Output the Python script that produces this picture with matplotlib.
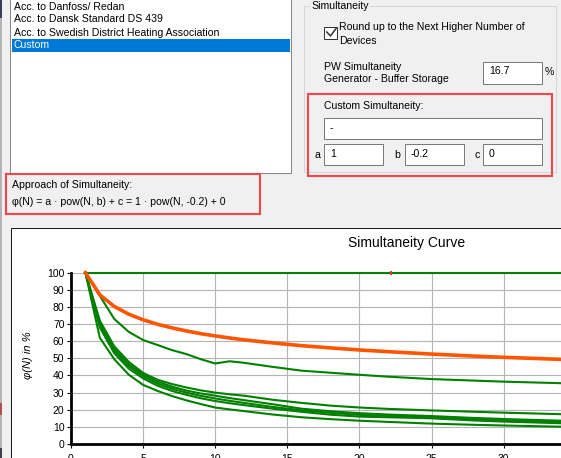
import matplotlib
matplotlib.use('Agg')
import matplotlib.pyplot as plt
from matplotlib.patches import Rectangle

plt.rcParams['font.family'] = ['Liberation Sans', 'DejaVu Sans']

# Chart data

n_devices = [1, 2, 3, 4, 5, 6, 7, 8, 9, 10, 11, 12, 14, 16, 18, 20, 22, 25, 28, 30, 34, 40]

custom_curve = [100, 87.1, 80.3, 75.8, 72.5, 69.9, 67.8, 66.0, 64.4, 63.1, 61.9, 60.8,
                59.0, 57.4, 56.1, 54.9, 53.9, 52.5, 51.3, 50.6, 49.4, 47.8]

flat_n = [1, 40]
flat_val = [100, 100]

curve_a = [100, 86.5, 73, 65.5, 60.7, 57.8, 54.8, 52.5, 49.5, 47, 48.3, 47.4,
           45, 42.8, 41.6, 40.4, 39.3, 37.9, 37, 36.4, 35.5, 34.5]
curve_b = [100, 72, 57, 48, 41.5, 37.5, 35, 33, 31.3, 30, 29, 28.2,
           25.8, 24.0, 22.4, 21.3, 20.5, 19.6, 18.8, 18.3, 17.4, 16.5]
curve_c = [100, 70.5, 55.5, 46.5, 40.5, 36.5, 33.5, 31.2, 29.5, 28.2, 26.8, 25.6,
           23.2, 20.6, 19.1, 18.0, 17.2, 16.3, 15.2, 14.6, 13.6, 12.5]
curve_d = [100, 69.5, 54.5, 45.5, 39.5, 35.3, 32.3, 30, 28.1, 26.6, 25.2, 24,
           21.6, 19.7, 18.2, 17.0, 16.4, 15.6, 14.4, 13.8, 12.8, 11.7]
curve_e = [100, 68, 53, 44, 38.3, 34, 31, 28.7, 26.7, 25.1, 23.8, 22.7,
           20.6, 18.8, 17.1, 16.0, 15.6, 15.0, 13.7, 13.1, 12.1, 11.0]
curve_f = [100, 62, 49.5, 40.5, 34.5, 31, 28, 25.5, 23.3, 21.3, 20.2, 19.2,
           17.2, 15.6, 14.5, 13.6, 12.9, 11.9, 11.2, 10.8, 10.1, 9.3]

marker_n = [22.2]
marker_val = [100]

x_ticks = [0, 5, 10, 15, 20, 25, 30, 35, 40]
y_ticks = [0, 10, 20, 30, 40, 50, 60, 70, 80, 90, 100]

list_items = ['Acc. to Danfoss/ Redan', 'Acc. to Dansk Standard DS 439',
              'Acc. to Swedish District Heating Association', 'Custom']

W, H = 561, 458
ui_size = 7.6
red = '#f04848'
box_edge = '#7a7a7a'

fig = plt.figure(figsize=(W / 100, H / 100), dpi=100, facecolor='#f0f0f0')

# background layer in pixel coordinates (y down)
bg = fig.add_axes([0, 0, 1, 1])
bg.set_xlim(0, W)
bg.set_ylim(H, 0)
bg.axis('off')


def rect(x, y, w, h, fc='none', ec='none', lw=0.72, z=1):
    bg.add_patch(Rectangle((x, y), w, h, facecolor=fc, edgecolor=ec, linewidth=lw, zorder=z))


def label(x, y, s, **kw):
    kw.setdefault('fontsize', ui_size)
    kw.setdefault('va', 'center')
    kw.setdefault('color', 'black')
    bg.text(x, y, s, **kw)


# left window edge
rect(0, 0, 2, H, fc='#b4b4b4')
rect(0, 0, 2, 18, fc='#3a3d5c')
rect(0, 403, 2, 12, fc='#b05050')
rect(0, 448, 2, 10, fc='#404050')

# list box
rect(10.5, -5, 281, 177.5, fc='white', ec='#828790')
rect(12, 39, 278, 12.5, fc='#0078d7', z=2)
for i, item in enumerate(list_items):
    label(14, 6.5 + 13 * i, item, color='white' if item == 'Custom' else 'black', zorder=3)

# approach box
rect(6.5, 174, 254, 40, ec=red, lw=1.5)
label(12, 185.5, 'Approach of Simultaneity:')
label(12, 202, 'φ(N) = a · pow(N, b) + c = 1 · pow(N, -0.2) + 0')

# simultaneity group box
rect(304, 6, 252.5, 166, ec='#d5d5d5')
label(311.5, 6, 'Simultaneity', bbox=dict(facecolor='#f0f0f0', edgecolor='none', pad=1))

rect(324.5, 27, 13, 12, fc='white', ec='#333333')
bg.plot([326.8, 330.5, 336], [32, 36, 28.5], color='#333333', lw=1.1)
label(339.5, 27.5, 'Round up to the Next Higher Number of')
label(339.5, 40.5, 'Devices')

label(324.5, 66.5, 'PW Simultaneity')
label(324.5, 79.5, 'Generator - Buffer Storage')
rect(483.5, 61.5, 59, 22, fc='white', ec=box_edge)
label(489, 71.5, '16.7')
label(544.5, 72, '%')

rect(308.3, 94.3, 243.4, 81.7, ec=red, lw=1.5)
label(324.5, 106, 'Custom Simultaneity:')
rect(324.5, 117.5, 218, 21.5, fc='white', ec=box_edge)
label(330, 128, '-')

for name, lx, bx, val in [('a', 317.3, 324.5, '1'), ('b', 397.7, 405.5, '-0.2'), ('c', 477.3, 483.5, '0')]:
    label(lx, 155, name, ha='center')
    rect(bx, 143.5, 59, 21.5, fc='white', ec=box_edge)
    label(bx + 5.5, 154, val)

# chart panel
rect(11, 228, 700, 400, fc='white', ec='#1a1a1a')
label(406.7, 243, 'Simultaneity Curve', ha='center', fontsize=10)
label(28.3, 355, 'φ(N) in %', ha='center', rotation=90, style='italic', fontsize=8)

# chart axes
x0, x1 = 71, 71 + 40 * 14.42
ytop, ybot = 272.7, 444
ax = fig.add_axes([x0 / W, (H - ybot) / H, (x1 - x0) / W, (ybot - ytop) / H])
ax.patch.set_alpha(0)
ax.set_xlim(0, 40)
ax.set_ylim(0, 100)
ax.set_xticks(x_ticks)
ax.set_yticks(y_ticks)
ax.grid(True, color='#b4b4b4', linewidth=0.8)
ax.set_axisbelow(True)
for side in ['top', 'right']:
    ax.spines[side].set_visible(False)
for side in ['left', 'bottom']:
    ax.spines[side].set_linewidth(2)
    ax.spines[side].set_color('black')
ax.tick_params(axis='both', labelsize=7.5, length=3, width=0.8, color='black')
ax.tick_params(axis='y', pad=1.7)
ax.tick_params(axis='x', pad=4)

green = '#008000'
ax.plot(flat_n, flat_val, color=green, lw=1.5, clip_on=False)
for curve in [curve_a, curve_b, curve_c, curve_d, curve_e, curve_f]:
    ax.plot(n_devices, curve, color=green, lw=1.5, clip_on=False)
ax.plot(n_devices, custom_curve, color='#ff5500', lw=2.6, clip_on=False)
ax.plot(marker_n, marker_val, linestyle='none', marker='|', markersize=3.5,
        markeredgewidth=1.5, color='#ff3030', clip_on=False)

fig.savefig('out.png', dpi=100, facecolor=fig.get_facecolor())
